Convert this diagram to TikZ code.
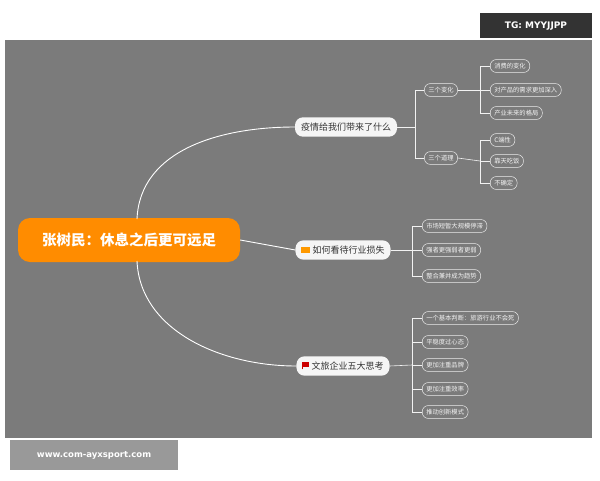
\documentclass[tikz,border=0pt]{standalone}
\usepackage{fontspec}
\newfontfamily\cjk{Noto Sans CJK SC}
\setmainfont{DejaVu Sans}
\begin{document}
\begin{tikzpicture}[x=1pt,y=-1pt,
  br/.style={fill=white!92!gray,rounded corners=8pt,inner xsep=6pt,inner ysep=5.5pt,font=\cjk\fontsize{9}{10}\selectfont,text=black!80},
  sub/.style={draw=white!85!gray,line width=0.5pt,rounded corners=6pt,inner xsep=4pt,inner ysep=3.5pt,font=\cjk\fontsize{6.3}{7}\selectfont,text=white!90!gray,anchor=west},
  ln/.style={draw=white,line width=0.9pt},
  tl/.style={draw=white!90!gray,line width=0.6pt}]
\useasboundingbox (0,0) rectangle (600,480);
\fill[white] (0,0) rectangle (600,480);
\fill[gray!85!black!90] (5,40) rectangle (592,438);
\fill[black!80] (480,13) rectangle (592,38);
\node[text=white,font=\bfseries\fontsize{9}{10}\selectfont] (tg) at (536,26) {TG: MYYJJPP};
\fill[gray!80] (10,440) rectangle (178,470);
\node[text=white,font=\bfseries\fontsize{8.5}{10}\selectfont] (www) at (94,455) {www.com-ayxsport.com};
% center
\node[fill=orange!90!yellow,rounded corners=12pt,minimum width=222pt,minimum height=44pt,text=white,font=\cjk\bfseries\fontsize{14.5}{15}\selectfont] (c) at (129,240) {张树民：休息之后更可远足};
% branches
\node[br] (b1) at (346,127) {疫情给我们带来了什么};
\node[br] (b2) at (343,250) {{\color{orange!80!yellow}\rule{9pt}{6pt}}\ 如何看待行业损失};
\node[br] (b3) at (343,366) {{\color{red!80!black}\rule{1pt}{7pt}\rule[2pt]{6pt}{5pt}}\ 文旅企业五大思考};
\draw[ln] (137,219) .. controls (140,150) and (220,127) .. (b1.west);
\draw[ln] (c.east) -- (b2.west);
\draw[ln] (137,261) .. controls (140,330) and (220,366) .. (b3.west);
% sub-level 1
\node[sub,anchor=center] (s1) at (441,90) {三个变化};
\node[sub,anchor=center] (s2) at (441,158) {三个道理};
\draw[tl] (b1.east) -- (415,127);
\draw[tl] (s1.west) -- (415,90) -- (415,158) -- (s2.west);
\node[sub] (l1) at (490,66) {消费的变化};
\node[sub] (l2) at (490,90) {对产品的需求更加深入};
\node[sub] (l3) at (490,113) {产业未来的格局};
\node[sub] (l4) at (490,140) {C端性};
\node[sub] (l5) at (490,161) {靠天吃饭};
\node[sub] (l6) at (490,183) {不确定};
\draw[tl] (s1.east) -- (480,90);
\draw[tl] (l1.west) -- (480,66) -- (480,113) -- (l3.west);
\draw[tl] (l2.west) -- (480,90);
\draw[tl] (s2.east) -- (480,161);
\draw[tl] (l4.west) -- (480,140) -- (480,183) -- (l6.west);
\draw[tl] (l5.west) -- (480,161);
% middle leaves
\node[sub] (m1) at (422,226) {市场短暂大规模停滞};
\node[sub] (m2) at (422,250) {强者更强弱者更弱};
\node[sub] (m3) at (422,276) {整合兼并成为趋势};
\draw[tl] (b2.east) -- (412,250);
\draw[tl] (m1.west) -- (412,226) -- (412,276) -- (m3.west);
\draw[tl] (m2.west) -- (412,250);
% bottom leaves
\node[sub] (n1) at (422,318) {一个基本判断：旅游行业不会死};
\node[sub] (n2) at (422,342) {平稳度过心态};
\node[sub] (n3) at (422,365) {更加注重品牌};
\node[sub] (n4) at (422,389) {更加注重效率};
\node[sub] (n5) at (422,412) {推动创新模式};
\draw[tl] (b3.east) -- (412,365);
\draw[tl] (n1.west) -- (412,318) -- (412,412) -- (n5.west);
\draw[tl] (n2.west) -- (412,342);
\draw[tl] (n3.west) -- (412,365);
\draw[tl] (n4.west) -- (412,389);
\end{tikzpicture}
\end{document}
